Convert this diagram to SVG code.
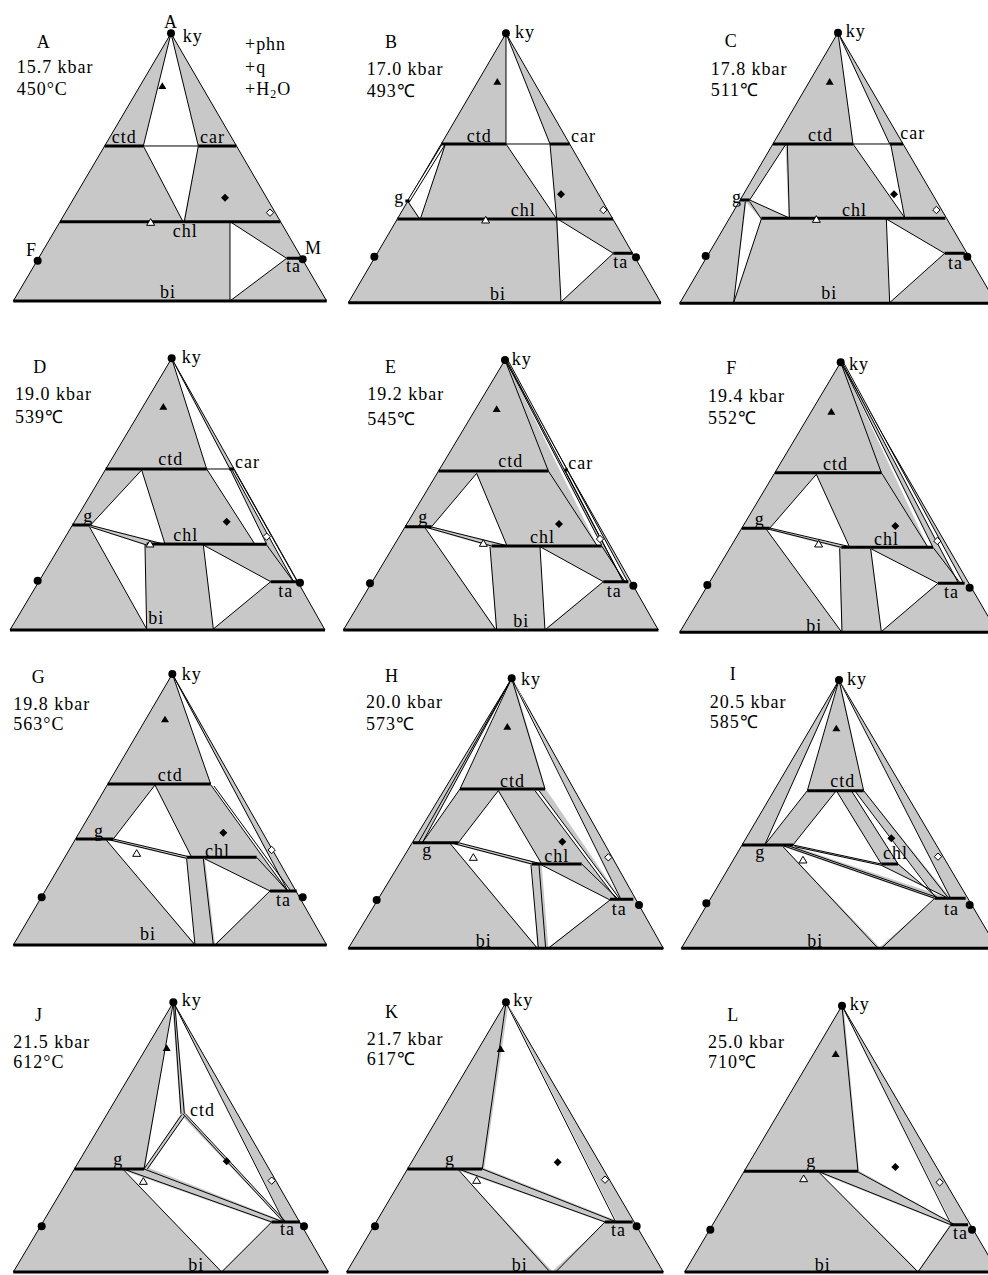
<svg xmlns="http://www.w3.org/2000/svg" xmlns:xlink="http://www.w3.org/1999/xlink" width="988" height="1275" viewBox="0 0 988 1275">
<style>
.bg{fill:#c8c8c8;stroke:#000;stroke-width:3;stroke-linejoin:round}
.w{fill:#fff;stroke:none}
.l{fill:none;stroke:#000;stroke-width:3}
.t{fill:none;stroke:#000;stroke-width:9}
.tx{font-family:"Liberation Serif","Times New Roman",serif;font-size:54px;letter-spacing:3px;fill:#000}
</style>
<defs>
<path id="bt" d="M0,-11 L12,9 L-12,9 Z" fill="#000"/>
<path id="ot" d="M0,-11 L12,9 L-12,9 Z" fill="#fff" stroke="#000" stroke-width="3"/>
<path id="bd" d="M0,-12 L12,0 L0,12 L-12,0 Z" fill="#000"/>
<path id="od" d="M0,-11 L11,0 L0,11 L-11,0 Z" fill="#fff" stroke="#000" stroke-width="3"/>
<circle id="dot" r="12" fill="#000"/>
</defs>
<rect width="988" height="1275" fill="#fff"/>

<g id="panel-A" transform="translate(0,20) scale(0.33333)">
<polygon class="bg" points="513,40 40,843 980,843"/>
<polygon class="w" points="513,40 430,378 595,378"/>
<polygon class="w" points="430,378 595,378 550,605"/>
<polygon class="w" points="690,605 860,715 690,843"/>
<path class="l" d="M513,40 L430,378 M513,40 L595,378 M430,378 L595,378 M430,378 L549,605 M595,378 L553,605 M690,605 L690,843 M690,605 L860,715 M860,715 L690,843"/>
<path class="t" d="M314,378 L430,378 M595,378 L709,378 M180,605 L841,605 M860,715 L905,715 M40,843 L980,843"/>
<use xlink:href="#dot" x="513" y="40"/><use xlink:href="#dot" x="113" y="722"/><use xlink:href="#dot" x="908" y="718"/>
<use xlink:href="#bt" x="487" y="198"/><use xlink:href="#bd" x="675" y="533"/><use xlink:href="#od" x="810" y="578"/><use xlink:href="#ot" x="452" y="607"/>
<text class="tx" x="513" y="24" text-anchor="middle">A</text>
<text class="tx" x="548" y="65">ky</text>
<text class="tx" x="110" y="85">A</text>
<text class="tx" x="50" y="160">15.7 kbar</text>
<text class="tx" x="50" y="225">450°C</text>
<text class="tx" x="735" y="90">+phn</text>
<text class="tx" x="735" y="160">+q</text>
<text class="tx" x="735" y="225">+H<tspan font-size="36" dy="10">2</tspan><tspan dy="-10">O</tspan></text>
<text class="tx" x="335" y="370">ctd</text>
<text class="tx" x="600" y="370">car</text>
<text class="tx" x="518" y="652">chl</text>
<text class="tx" x="915" y="703">M</text>
<text class="tx" x="78" y="707">F</text>
<text class="tx" x="858" y="757">ta</text>
<text class="tx" x="480" y="835">bi</text>
</g>

<g id="panel-B" transform="translate(335,20) scale(0.33333)">
<polygon class="bg" points="513,40 40,848 978,848"/>
<polygon class="w" points="513,40 513,372 645,372"/>
<polygon class="w" points="513,372 645,372 665,597"/>
<polygon class="w" points="222,545 328,376 256,597"/>
<polygon class="w" points="218,541 321,373 328,374 222,546"/>
<polygon class="w" points="668,597 835,700 678,846"/>
<path class="l" d="M513,40 L513,372 M513,40 L645,372 M513,372 L645,372 M513,372 L665,597 M645,372 L665,597 L678,846 M217,543 L321,373 M223,546 L330,374 M330,376 L256,597 M219,545 L254,597 M668,597 L835,700 L678,846"/>
<path class="t" d="M319,372 L513,372 M645,372 L704,372 M187,597 L834,597 M835,700 L893,700 M40,848 L978,848 M211,543 L224,543"/>
<use xlink:href="#dot" x="513" y="40"/><use xlink:href="#dot" x="118" y="710"/><use xlink:href="#dot" x="903" y="712"/>
<use xlink:href="#bt" x="487" y="185"/><use xlink:href="#bd" x="678" y="523"/><use xlink:href="#od" x="805" y="570"/><use xlink:href="#ot" x="452" y="600"/>
<text class="tx" x="150" y="85">B</text>
<text class="tx" x="95" y="165">17.0 kbar</text>
<text class="tx" x="95" y="230">493℃</text>
<text class="tx" x="540" y="55">ky</text>
<text class="tx" x="395" y="365">ctd</text>
<text class="tx" x="708" y="365">car</text>
<text class="tx" x="178" y="548">g</text>
<text class="tx" x="527" y="588">chl</text>
<text class="tx" x="835" y="745">ta</text>
<text class="tx" x="465" y="840">bi</text>
</g>

<g id="panel-C" transform="translate(668,20) scale(0.33333)">
<polygon class="bg" points="510,38 35,850 985,850"/>
<polygon class="w" points="510,38 555,372 665,372"/>
<polygon class="w" points="555,372 668,372 710,593"/>
<polygon class="w" points="245,540 352,375 362,592"/>
<polygon class="w" points="235,548 280,597 197,848"/>
<polygon class="w" points="655,597 830,700 665,848"/>
<path class="l" d="M510,38 L555,372 M510,38 L665,372 M555,372 L665,372 M555,372 L710,593 M668,372 L710,593 M352,375 L245,540 M358,375 L364,593 M245,540 L362,593 M245,545 L280,597 M232,545 L197,848 M280,597 L197,848 M655,597 L830,700 M655,597 L665,848 M665,848 L830,700"/>
<path class="t" d="M315,372 L555,372 M665,372 L705,372 M216,540 L245,540 M280,595 L832,595 M830,700 L890,700 M35,850 L985,850"/>
<use xlink:href="#dot" x="510" y="38"/><use xlink:href="#dot" x="113" y="708"/><use xlink:href="#dot" x="898" y="710"/>
<use xlink:href="#bt" x="485" y="185"/><use xlink:href="#bd" x="678" y="523"/><use xlink:href="#od" x="805" y="570"/><use xlink:href="#ot" x="445" y="598"/>
<text class="tx" x="170" y="80">C</text>
<text class="tx" x="128" y="165">17.8 kbar</text>
<text class="tx" x="128" y="228">511℃</text>
<text class="tx" x="533" y="50">ky</text>
<text class="tx" x="420" y="363">ctd</text>
<text class="tx" x="697" y="358">car</text>
<text class="tx" x="192" y="548">g</text>
<text class="tx" x="522" y="588">chl</text>
<text class="tx" x="840" y="748">ta</text>
<text class="tx" x="460" y="838">bi</text>
</g>

<g id="panel-D" transform="translate(0,345) scale(0.33333)">
<polygon class="bg" points="515,40 30,855 975,855"/>
<polygon class="w" points="515,40 620,372 688,372"/>
<polygon class="w" points="620,372 690,372 800,598 765,598"/>
<polygon class="w" points="697,376 703,376 893,712 882,712"/>
<polygon class="w" points="272,540 425,375 495,597"/>
<polygon class="w" points="268,545 435,600 440,852"/>
<polygon class="w" points="610,600 812,710 640,852"/>
<path class="l" d="M515,40 L620,372 M515,40 L690,372 M620,372 L690,372 M620,372 L765,598 M690,372 L800,598 M697,376 L882,712 M703,376 L893,712 M425,375 L272,540 M425,375 L495,597 M272,541 L490,597 M272,546 L440,600 M268,545 L440,852 M435,600 L440,852 M610,600 L640,852 M610,600 L812,710 L640,852 M800,600 L882,712"/>
<path class="t" d="M317,372 L620,372 M688,372 L702,372 M217,540 L272,540 M440,597 L800,598 M812,710 L893,710 M30,855 L975,855"/>
<use xlink:href="#dot" x="515" y="40"/><use xlink:href="#dot" x="113" y="707"/><use xlink:href="#dot" x="900" y="713"/>
<use xlink:href="#bt" x="490" y="185"/><use xlink:href="#bd" x="680" y="530"/><use xlink:href="#od" x="800" y="575"/><use xlink:href="#ot" x="450" y="597"/>
<text class="tx" x="100" y="85">D</text>
<text class="tx" x="45" y="165">19.0 kbar</text>
<text class="tx" x="45" y="235">539℃</text>
<text class="tx" x="545" y="55">ky</text>
<text class="tx" x="475" y="360">ctd</text>
<text class="tx" x="705" y="370">car</text>
<text class="tx" x="250" y="530">g</text>
<text class="tx" x="520" y="588">chl</text>
<text class="tx" x="835" y="755">ta</text>
<text class="tx" x="445" y="838">bi</text>
</g>

<g id="panel-E" transform="translate(335,345) scale(0.33333)">
<polygon class="bg" points="510,45 25,855 970,855"/>
<polygon class="w" points="514,50 785,600 800,600"/>
<polygon class="w" points="518,50 865,710 878,710"/>
<polygon class="w" points="290,545 425,385 515,600"/>
<polygon class="w" points="270,548 465,605 483,852"/>
<polygon class="w" points="615,605 805,710 630,852"/>
<path class="l" d="M510,45 L640,378 L785,600 M513,48 L800,600 M516,48 L865,710 M520,48 L878,710 M690,375 L865,710 M425,385 L290,545 M425,385 L515,600 M270,546 L470,603 M290,546 L515,602 M270,548 L483,855 M465,605 L485,855 M615,605 L630,855 M615,605 L805,710 L630,855 M800,603 L870,710"/>
<path class="t" d="M311,378 L640,378 M688,375 L699,375 M210,545 L290,545 M470,603 L800,603 M805,710 L880,710 M25,855 L970,855"/>
<use xlink:href="#dot" x="510" y="45"/><use xlink:href="#dot" x="105" y="715"/><use xlink:href="#dot" x="895" y="722"/>
<use xlink:href="#bt" x="485" y="192"/><use xlink:href="#bd" x="672" y="537"/><use xlink:href="#od" x="795" y="582"/><use xlink:href="#ot" x="445" y="595"/>
<text class="tx" x="150" y="85">E</text>
<text class="tx" x="97" y="165">19.2 kbar</text>
<text class="tx" x="97" y="240">545℃</text>
<text class="tx" x="530" y="60">ky</text>
<text class="tx" x="490" y="365">ctd</text>
<text class="tx" x="700" y="372">car</text>
<text class="tx" x="250" y="535">g</text>
<text class="tx" x="585" y="595">chl</text>
<text class="tx" x="815" y="755">ta</text>
<text class="tx" x="535" y="845">bi</text>
</g>

<g id="panel-F" transform="translate(668,345) scale(0.33333)">
<polygon class="bg" points="518,52 35,862 988,862"/>
<polygon class="w" points="522,56 780,607 795,607"/>
<polygon class="w" points="526,56 870,712 885,712"/>
<polygon class="w" points="305,550 445,388 545,607"/>
<polygon class="w" points="295,553 515,610 520,860"/>
<polygon class="w" points="610,612 810,715 640,860"/>
<path class="l" d="M518,52 L640,383 L780,607 M521,55 L795,607 M524,55 L870,712 M528,55 L885,712 M445,388 L305,550 M445,388 L545,607 M300,552 L520,607 M305,549 L545,605 M295,553 L520,860 M515,610 L522,860 M608,612 L640,860 M610,612 L810,715 L640,860 M795,607 L875,712"/>
<path class="t" d="M321,383 L640,383 M222,550 L305,550 M520,607 L795,607 M810,715 L890,715 M35,862 L988,862"/>
<use xlink:href="#dot" x="518" y="52"/><use xlink:href="#dot" x="118" y="720"/><use xlink:href="#dot" x="905" y="728"/>
<use xlink:href="#bt" x="490" y="200"/><use xlink:href="#bd" x="682" y="543"/><use xlink:href="#od" x="808" y="588"/><use xlink:href="#ot" x="452" y="597"/>
<text class="tx" x="175" y="88">F</text>
<text class="tx" x="120" y="172">19.4 kbar</text>
<text class="tx" x="120" y="236">552℃</text>
<text class="tx" x="543" y="75">ky</text>
<text class="tx" x="465" y="375">ctd</text>
<text class="tx" x="260" y="540">g</text>
<text class="tx" x="618" y="600">chl</text>
<text class="tx" x="828" y="760">ta</text>
<text class="tx" x="415" y="860">bi</text>
</g>

<g id="panel-G" transform="translate(0,660) scale(0.33333)">
<polygon class="bg" points="517,42 40,855 980,855"/>
<polygon class="w" points="519,48 632,372 862,690"/>
<polygon class="w" points="632,374 642,378 870,690 860,690"/>
<polygon class="w" points="340,537 465,375 575,592"/>
<polygon class="w" points="318,540 560,597 585,852"/>
<polygon class="w" points="615,597 810,693 645,852"/>
<path class="l" d="M517,42 L632,372 M517,42 L862,690 M632,374 L860,690 M642,378 L870,690 M465,375 L340,537 M465,375 L575,592 M318,537 L560,595 M340,537 L575,592 M318,539 L585,855 M560,597 L585,855 M610,597 L640,855 M615,597 L810,693 L645,855 M770,592 L860,690"/>
<path class="t" d="M323,372 L632,372 M228,537 L340,537 M560,592 L770,592 M810,693 L890,693 M40,855 L980,855"/>
<use xlink:href="#dot" x="517" y="42"/><use xlink:href="#dot" x="125" y="712"/><use xlink:href="#dot" x="908" y="712"/>
<use xlink:href="#bt" x="495" y="178"/><use xlink:href="#bd" x="670" y="518"/><use xlink:href="#od" x="815" y="570"/><use xlink:href="#ot" x="410" y="580"/>
<text class="tx" x="95" y="70">G</text>
<text class="tx" x="40" y="150">19.8 kbar</text>
<text class="tx" x="40" y="210">563°C</text>
<text class="tx" x="545" y="60">ky</text>
<text class="tx" x="473" y="362">ctd</text>
<text class="tx" x="282" y="530">g</text>
<text class="tx" x="615" y="590">chl</text>
<text class="tx" x="828" y="738">ta</text>
<text class="tx" x="420" y="840">bi</text>
</g>

<g id="panel-H" transform="translate(335,660) scale(0.33333)">
<polygon class="bg" points="530,55 40,865 985,865"/>
<polygon class="w" points="530,60 262,548 375,387"/>
<polygon class="w" points="370,548 490,392 618,610"/>
<polygon class="w" points="536,60 632,387 858,718"/>
<polygon class="w" points="600,392 612,392 855,718 845,718"/>
<polygon class="w" points="345,550 590,615 607,862"/>
<polygon class="w" points="620,615 825,720 640,862"/>
<path class="l" d="M530,55 L250,548 M530,55 L262,548 M530,55 L375,387 M530,55 L630,387 M530,55 L858,718 M375,387 L262,548 M490,392 L370,548 M490,392 L620,612 M600,392 L845,718 M612,392 L855,718 M740,612 L850,718 M345,548 L590,612 M370,548 L620,612 M345,550 L607,865 M588,615 L610,865 M612,615 L632,865 M620,615 L825,720 L640,865"/>
<path class="t" d="M375,387 L630,387 M234,548 L370,548 M590,612 L740,612 M825,718 L895,718 M40,865 L985,865"/>
<use xlink:href="#dot" x="530" y="55"/><use xlink:href="#dot" x="125" y="720"/><use xlink:href="#dot" x="912" y="735"/>
<use xlink:href="#bt" x="517" y="200"/><use xlink:href="#bd" x="682" y="545"/><use xlink:href="#od" x="820" y="592"/><use xlink:href="#ot" x="415" y="592"/>
<text class="tx" x="150" y="65">H</text>
<text class="tx" x="93" y="145">20.0 kbar</text>
<text class="tx" x="93" y="210">573℃</text>
<text class="tx" x="558" y="75">ky</text>
<text class="tx" x="495" y="380">ctd</text>
<text class="tx" x="262" y="588">g</text>
<text class="tx" x="628" y="605">chl</text>
<text class="tx" x="830" y="765">ta</text>
<text class="tx" x="422" y="860">bi</text>
</g>

<g id="panel-I" transform="translate(668,660) scale(0.33333)">
<polygon class="bg" points="513,60 40,865 988,865"/>
<polygon class="w" points="513,62 290,555 418,392"/>
<polygon class="w" points="375,555 505,392 640,612"/>
<polygon class="w" points="552,394 562,394 805,712 690,610"/>
<polygon class="w" points="517,64 587,392 846,712"/>
<polygon class="w" points="380,560 640,616 835,712"/>
<polygon class="w" points="345,560 800,718 635,862"/>
<path class="l" d="M513,60 L290,555 M513,60 L418,392 M513,60 L587,392 M513,60 L848,715 M418,392 L290,555 M505,392 L375,555 M505,392 L640,612 M550,392 L690,612 M560,392 L805,715 M587,392 L842,715 M690,612 L810,715 M375,555 L640,612 M380,560 L640,616 L835,712 M360,557 L815,715 M345,557 L800,715 M345,560 L630,865 M800,715 L640,865"/>
<path class="t" d="M418,392 L587,392 M222,555 L375,555 M640,612 L690,612 M800,715 L893,715 M40,865 L988,865"/>
<use xlink:href="#dot" x="513" y="60"/><use xlink:href="#dot" x="115" y="730"/><use xlink:href="#dot" x="905" y="735"/>
<use xlink:href="#bt" x="505" y="205"/><use xlink:href="#bd" x="670" y="535"/><use xlink:href="#od" x="810" y="590"/><use xlink:href="#ot" x="405" y="600"/>
<text class="tx" x="185" y="60">I</text>
<text class="tx" x="125" y="145">20.5 kbar</text>
<text class="tx" x="125" y="205">585℃</text>
<text class="tx" x="537" y="75">ky</text>
<text class="tx" x="487" y="380">ctd</text>
<text class="tx" x="262" y="595">g</text>
<text class="tx" x="645" y="598">chl</text>
<text class="tx" x="828" y="765">ta</text>
<text class="tx" x="418" y="862">bi</text>
</g>

<g id="panel-J" transform="translate(0,968) scale(0.33333)">
<polygon class="bg" points="520,103 40,912 985,912"/>
<polygon class="w" points="517,112 436,598 541,441"/>
<polygon class="w" points="551,449 447,600 845,757"/>
<polygon class="w" points="525,112 557,440 852,757"/>
<polygon class="w" points="372,608 812,764 665,910"/>
<path class="l" d="M520,103 L432,603 M520,103 L543,437 M524,103 L553,437 M432,603 L545,440 M442,603 L553,445 M548,437 L850,762 M556,437 L858,762 M520,103 L852,762 M370,603 L815,762 M432,603 L850,762 M370,605 L665,912 M815,762 L665,912"/>
<path class="t" d="M223,603 L432,603 M815,762 L900,762 M40,912 L985,912"/>
<use xlink:href="#dot" x="520" y="103"/><use xlink:href="#dot" x="125" y="775"/><use xlink:href="#dot" x="912" y="775"/>
<use xlink:href="#bt" x="500" y="240"/><use xlink:href="#bd" x="680" y="580"/><use xlink:href="#od" x="815" y="638"/><use xlink:href="#ot" x="430" y="640"/>
<text class="tx" x="105" y="160">J</text>
<text class="tx" x="40" y="240">21.5 kbar</text>
<text class="tx" x="40" y="300">612°C</text>
<text class="tx" x="545" y="115">ky</text>
<text class="tx" x="570" y="445">ctd</text>
<text class="tx" x="340" y="590">g</text>
<text class="tx" x="840" y="800">ta</text>
<text class="tx" x="565" y="908">bi</text>
</g>

<g id="panel-K" transform="translate(335,968) scale(0.33333)">
<polygon class="bg" points="513,103 35,912 985,912"/>
<polygon class="w" points="520,112 448,600 843,757"/>
<polygon class="w" points="372,608 810,764 652,910"/>
<path class="l" d="M513,103 L442,603 M513,103 L842,762 M370,603 L810,762 M442,603 L845,762 M370,605 L645,912 M810,762 L662,912"/>
<path class="t" d="M217,603 L442,603 M810,762 L893,762 M35,912 L985,912"/>
<use xlink:href="#dot" x="513" y="103"/><use xlink:href="#dot" x="120" y="775"/><use xlink:href="#dot" x="905" y="775"/>
<use xlink:href="#bt" x="497" y="243"/><use xlink:href="#bd" x="668" y="583"/><use xlink:href="#od" x="810" y="635"/><use xlink:href="#ot" x="425" y="637"/>
<text class="tx" x="150" y="150">K</text>
<text class="tx" x="95" y="230">21.7 kbar</text>
<text class="tx" x="95" y="290">617℃</text>
<text class="tx" x="535" y="115">ky</text>
<text class="tx" x="330" y="590">g</text>
<text class="tx" x="828" y="805">ta</text>
<text class="tx" x="530" y="910">bi</text>
</g>

<g id="panel-L" transform="translate(668,968) scale(0.33333)">
<polygon class="bg" points="522,113 50,912 990,912"/>
<polygon class="w" points="528,125 573,608 850,763"/>
<polygon class="w" points="458,617 845,772 750,908"/>
<path class="l" d="M522,113 L570,610 M522,113 L850,770 M455,612 L848,770 M570,612 L860,770 M455,615 L750,912 M848,772 L750,912"/>
<path class="t" d="M228,610 L570,610 M848,770 L900,770 M50,912 L990,912"/>
<use xlink:href="#dot" x="522" y="113"/><use xlink:href="#dot" x="127" y="785"/><use xlink:href="#dot" x="912" y="785"/>
<use xlink:href="#bt" x="503" y="258"/><use xlink:href="#bd" x="682" y="597"/><use xlink:href="#od" x="815" y="643"/><use xlink:href="#ot" x="407" y="632"/>
<text class="tx" x="178" y="160">L</text>
<text class="tx" x="120" y="240">25.0 kbar</text>
<text class="tx" x="120" y="300">710℃</text>
<text class="tx" x="545" y="125">ky</text>
<text class="tx" x="415" y="598">g</text>
<text class="tx" x="855" y="812">ta</text>
<text class="tx" x="440" y="908">bi</text>
</g>
</svg>
